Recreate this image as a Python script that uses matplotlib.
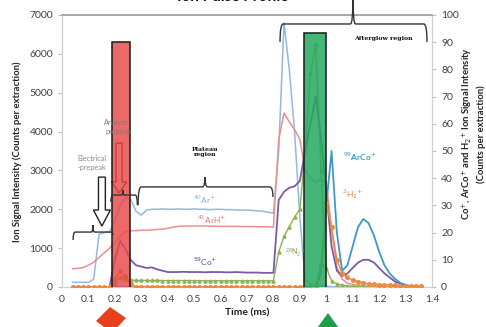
import numpy as np
import matplotlib.pyplot as plt
from matplotlib.patches import Rectangle, FancyArrow, Polygon, PathPatch
from matplotlib.path import Path

plt.rcParams['font.family'] = ['Lato', 'DejaVu Sans']

# sampling times (ms)
time = [0.04, 0.06, 0.08, 0.10, 0.12, 0.14, 0.16, 0.18, 0.20, 0.22,
        0.24, 0.26, 0.28, 0.30, 0.32, 0.34, 0.36, 0.38, 0.40, 0.42,
        0.44, 0.46, 0.48, 0.50, 0.52, 0.54, 0.56, 0.58, 0.60, 0.62,
        0.64, 0.66, 0.68, 0.70, 0.72, 0.74, 0.76, 0.78, 0.80, 0.82,
        0.84, 0.86, 0.88, 0.90, 0.92, 0.94, 0.96, 0.98, 1.00, 1.02,
        1.04, 1.06, 1.08, 1.10, 1.12, 1.14, 1.16, 1.18, 1.20, 1.22,
        1.24, 1.26, 1.28, 1.30, 1.32, 1.34, 1.36]

# left axis series
ar = [120, 120, 120, 120, 200, 1350, 1400, 1420, 1700, 2100,
      2300, 2250, 1950, 1850, 1980, 2000, 2000, 2010, 2000, 2000,
      2010, 2000, 2000, 2010, 2000, 2000, 1990, 2000, 2000, 1990,
      1990, 1980, 1980, 1980, 1970, 1960, 1950, 1920, 1900, 3500,
      6800, 5600, 4000, 1800, 200, 80, 50, 30, 20, 10,
      5, 0, 0, 0, 0, 0, 0, 0, 0, 0,
      0, 0, 0, 0, 0, 0, 0]
arh = [470, 480, 500, 560, 640, 760, 880, 1000, 1150, 1300,
       1420, 1450, 1450, 1460, 1460, 1470, 1480, 1490, 1510, 1540,
       1560, 1570, 1570, 1570, 1570, 1570, 1565, 1565, 1560, 1560,
       1560, 1560, 1555, 1555, 1555, 1550, 1550, 1550, 1540, 3800,
       4480, 4250, 4050, 3800, 3000, 2800, 2700, 2750, 2700, 1500,
       500, 200, 100, 60, 40, 30, 20, 10, 5, 0,
       0, 0, 0, 0, 0, 0, 0]
n2 = [0, 0, 0, 0, 0, 0, 0, 0, 100, 250,
      200, 180, 170, 170, 170, 170, 170, 165, 165, 165,
      165, 165, 165, 165, 160, 160, 160, 160, 160, 160,
      160, 160, 160, 160, 160, 160, 160, 160, 160, 900,
      1300, 1550, 1800, 2000, 3500, 5500, 6250, 3000, 500, 150,
      80, 50, 30, 20, 10, 5, 0, 0, 0, 0,
      0, 0, 0, 0, 0, 0, 0]

# right axis series
co = [0, 0, 0, 0, 0, 0, 0, 0, 10, 17,
      14, 10, 8, 7.5, 7, 7.2, 6.5, 6, 5.5, 5.5,
      5.5, 5.6, 5.5, 5.5, 5.5, 5.4, 5.5, 5.5, 5.5, 5.4,
      5.4, 5.5, 5.4, 5.3, 5.3, 5.3, 5.2, 5.2, 5.2, 32,
      35, 36.5, 37, 39, 50, 60, 70, 55, 35, 15,
      6, 4, 5, 7, 9, 10, 10, 9, 7, 5,
      3.5, 2, 1.2, 0.6, 0.3, 0.1, 0]
arco = [0, 0, 0, 0, 0, 0, 0, 0, 0, 0,
        0, 0, 0, 0, 0, 0, 0, 0, 0, 0,
        0, 0, 0, 0, 0, 0, 0, 0, 0, 0,
        0, 0, 0, 0, 0, 0, 0, 0, 0, 0,
        0, 0, 0, 0, 0, 0, 0, 5, 30, 50,
        20, 6, 8, 15, 22, 25, 23.5, 19, 13, 8,
        5, 3, 1.5, 0.8, 0.3, 0.1, 0]
h2 = [0, 0, 0, 0, 0, 0, 0, 0, 3, 6,
      4, 1, 0, 0, 0, 0, 0, 0, 0, 0,
      0, 0, 0, 0, 0, 0, 0, 0, 0, 0,
      0, 0, 0, 0, 0, 0, 0, 0, 0, 0,
      0, 0, 0, 0, 0, 0, 0, 8, 31, 22,
      10, 5, 3.5, 2.5, 2, 1.5, 1.2, 1, 0.9, 0.8,
      0.7, 0.6, 0.5, 0.4, 0.4, 0.3, 0.3]

x_ticks = [0, 0.1, 0.2, 0.3, 0.4, 0.5, 0.6, 0.7, 0.8, 0.9, 1.0, 1.1, 1.2, 1.3, 1.4]
x_labels = ['0', '0.1', '0.2', '0.3', '0.4', '0.5', '0.6', '0.7', '0.8', '0.9',
            '1', '1.1', '1.2', '1.3', '1.4']

fig = plt.figure(figsize=(4.86, 3.27), dpi=100)
W, H = 486, 327
ax = fig.add_axes([62 / W, 1 - 287 / H, 370 / W, 272 / H])
ax2 = ax.twinx()

ax.plot(time, ar, color='#95B8E0', lw=1.1, zorder=3)
ax.plot(time, arh, color='#E8918F', lw=1.1, zorder=3)
ax.plot(time, n2, color='#8DB255', lw=1.0, marker='^', ms=2.2, zorder=3)

ax2.plot(time, co, color='#7A5BA8', lw=1.3, zorder=3)
ax2.plot(time, arco, color='#3F97CC', lw=1.3, zorder=3)
ax2.plot(time, h2, color='#F08A3C', lw=1.1, marker='o', ms=2.6, zorder=3)

ax.set_xlim(0, 1.4)
ax.set_ylim(0, 7000)
ax2.set_ylim(0, 100)
ax.set_xticks(x_ticks)
ax.set_xticklabels(x_labels)
ax.set_yticks(range(0, 7001, 1000))
ax2.set_yticks(range(0, 101, 10))

tc = '#404040'
ax.tick_params(axis='x', length=0, labelsize=7.5, colors=tc, pad=6)
ax.tick_params(axis='y', length=3, labelsize=7.5, colors=tc, color='#BFBFBF')
ax2.tick_params(axis='y', length=3, labelsize=7.5, colors=tc, color='#BFBFBF')
for a in (ax, ax2):
    for s in a.spines.values():
        s.set_color('#D0D0D0')
        s.set_linewidth(0.8)
    a.spines['top'].set_color('#A6A6A6')
    a.spines['top'].set_linewidth(1.2)

ax.set_xlabel('Time (ms)', fontsize=7.5, fontweight='bold', color='#222222', labelpad=3)
fig.text(17 / W, 1 - 152 / H, 'Ion Signal Intensity (Counts per extraction)',
         rotation=90, ha='center', va='center', fontsize=6.8, fontweight='bold', color='#222222')
fig.text(468 / W, 1 - 134 / H, r'Co$^{+}$, ArCo$^{+}$ and H$_2$$^{+}$ Ion Signal Intensity',
         rotation=90, ha='center', va='center', fontsize=6.8, fontweight='bold', color='#222222')
fig.text(481 / W, 1 - 134 / H, '(Counts per extraction)',
         rotation=90, ha='center', va='center', fontsize=6.8, fontweight='bold', color='#222222')
# title sits mostly above the top edge, as in the cropped original
fig.text(233 / W, 1 - 4 / H, 'Ion Pulse Profile', ha='center', va='bottom',
         fontsize=11, fontweight='bold', color='#111111')

# highlight boxes
ax2.add_patch(Rectangle((0.189, -0.3), 0.068, 90.4, facecolor='#E84848', alpha=0.82,
                        edgecolor='none', zorder=6))
ax2.add_patch(Rectangle((0.189, -0.3), 0.068, 90.4, facecolor='none',
                        edgecolor='#1A1A1A', lw=1.1, zorder=7))
ax2.add_patch(Rectangle((0.916, -0.3), 0.083, 93.7, facecolor='#25A860', alpha=0.85,
                        edgecolor='none', zorder=6))
ax2.add_patch(Rectangle((0.916, -0.3), 0.083, 93.7, facecolor='none',
                        edgecolor='#1A1A1A', lw=1.1, zorder=7))


def brace(a, x0, x1, xm, y, ye0, ye1, ytip, d=0.012, dm=0.01):
    verts = [(x0, ye0), (x0, y), (x0 + d, y), (xm - dm, y), (xm, y), (xm, ytip),
             (xm, y), (xm + dm, y), (x1 - d, y), (x1, y), (x1, ye1)]
    codes = [Path.MOVETO, Path.CURVE3, Path.CURVE3, Path.LINETO, Path.CURVE3, Path.CURVE3,
             Path.CURVE3, Path.CURVE3, Path.LINETO, Path.CURVE3, Path.CURVE3]
    a.add_patch(PathPatch(Path(verts, codes), facecolor='none', edgecolor='#333333',
                          lw=1.0, zorder=8, clip_on=False))


brace(ax2, 0.825, 1.381, 1.101, 96.7, 90.1, 90.1, 106)
brace(ax2, 0.288, 0.798, 0.541, 36.8, 30.1, 33.1, 40.4)
brace(ax2, 0.042, 0.193, 0.117, 20.2, 17.3, 19.1, 22.8, d=0.008, dm=0.006)
brace(ax2, 0.185, 0.285, 0.23, 33.8, 31.3, 30.1, 35.7, d=0.008, dm=0.006)

# hollow arrows
ax2.add_patch(FancyArrow(0.151, 40.4, 0, -18.0, width=0.026, head_width=0.064,
                         head_length=5.9, length_includes_head=True,
                         facecolor='white', edgecolor='#222222', lw=1.0, zorder=5))
ax2.add_patch(FancyArrow(0.216, 52.9, 0, -18.3, width=0.023, head_width=0.057,
                         head_length=4.0, length_includes_head=True,
                         facecolor='white', edgecolor='#5A0A0A', lw=1.0, zorder=5))

# text annotations
gc = '#8C8C8C'
ax2.text(0.113, 45.6, 'Electrical\n-prepeak', ha='center', va='center', fontsize=5.3,
         color=gc, linespacing=1.2, zorder=9)
ax2.text(0.212, 58.8, 'Analyte-\nprepeak', ha='center', va='center', fontsize=5.3,
         color='#9A7070', linespacing=1.2, zorder=9)
ax2.text(0.541, 49.6, 'Plateau\nregion', ha='center', va='center', fontsize=4.5,
         fontweight='bold', family='DejaVu Serif', color='#111111', linespacing=1.1, zorder=9)
ax2.text(1.215, 91.5, 'Afterglow region', ha='center', va='center', fontsize=4.5,
         fontweight='bold', family='DejaVu Serif', color='#111111', zorder=9)
ax2.text(0.541, 32.0, r'$^{40}$Ar$^{+}$', ha='center', va='center', fontsize=6,
         color='#8DB0DA', zorder=9)
ax2.text(0.567, 24.6, r'$^{41}$ArH$^{+}$', ha='center', va='center', fontsize=6,
         color='#E07A78', zorder=9)
ax2.text(0.541, 9.2, r'$^{59}$Co$^{+}$', ha='center', va='center', fontsize=6,
         color='#6A4A9A', zorder=9)
ax2.text(1.128, 47.8, r'$^{99}$ArCo$^{+}$', ha='center', va='center', fontsize=6,
         color='#3F97CC', fontweight='bold', zorder=9)
ax2.text(1.10, 34.2, r'$^{2}$H$_2$$^{+}$', ha='center', va='center', fontsize=6,
         color='#E0873F', zorder=9)
ax2.text(0.885, 12.5, r'$^{28}$N$_2$$^{+}$', ha='center', va='center', fontsize=5,
         color='#8A9A50', zorder=9)

# arrow heads at the bottom edge
fig.patches.append(Polygon([(96 / W, 1 - 321 / H), (110 / W, 1 - 307 / H),
                            (126 / W, 1 - 318 / H), (112 / W, 1 - 333 / H)],
                           closed=True, transform=fig.transFigure, facecolor='#E8401C',
                           edgecolor='none'))
fig.patches.append(Polygon([(315 / W, 1 - 331 / H), (328 / W, 1 - 313 / H),
                            (341 / W, 1 - 331 / H)],
                           closed=True, transform=fig.transFigure, facecolor='#1E9E46',
                           edgecolor='none'))

fig.savefig('out.png', dpi=100)
